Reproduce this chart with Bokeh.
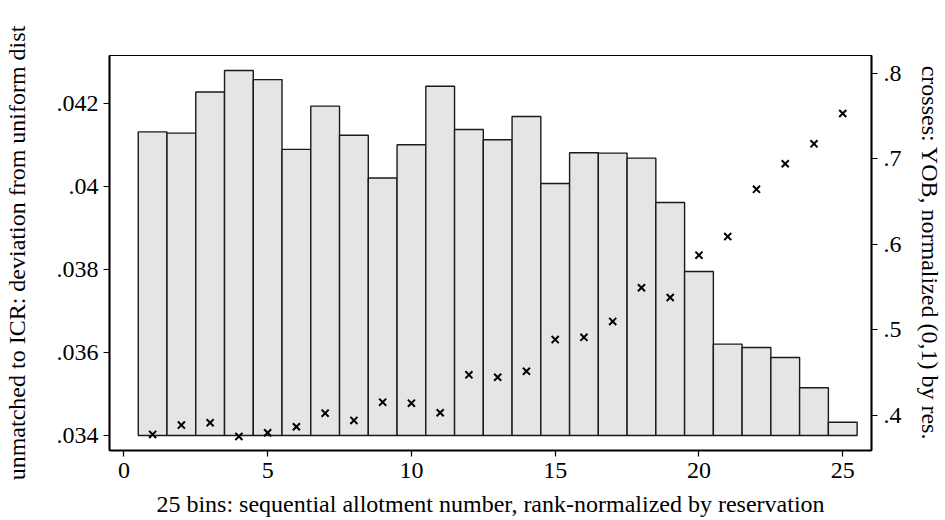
from bokeh.plotting import figure
from bokeh.models import Range1d, LinearAxis, FixedTicker
from bokeh.embed import file_html
from bokeh.resources import INLINE

# ---- data ----
bins = list(range(1, 26))
base = 0.034
share = [0.04131, 0.04128, 0.04227, 0.04279, 0.04257, 0.04089, 0.04193, 0.04123,
         0.04020, 0.04100, 0.04241, 0.04137, 0.04112, 0.04168, 0.04007, 0.04081,
         0.04080, 0.04068, 0.03961, 0.03795, 0.03620, 0.03612, 0.03588, 0.03515,
         0.03432]
yob = [0.3778, 0.3887, 0.3915, 0.3755, 0.3798, 0.3868, 0.4027, 0.3942, 0.4155,
       0.4144, 0.4031, 0.4475, 0.4447, 0.4517, 0.4887, 0.4914, 0.5100, 0.5494,
       0.5380, 0.5875, 0.6092, 0.6645, 0.6944, 0.7177, 0.7532]
x_ticks = [0, 5, 10, 15, 20, 25]
left_ticks = [0.034, 0.036, 0.038, 0.040, 0.042]
left_labels = [".034", ".036", ".038", ".04", ".042"]
right_ticks = [0.4, 0.5, 0.6, 0.7, 0.8]
right_labels = [".4", ".5", ".6", ".7", ".8"]
x_title = "25 bins: sequential allotment number, rank-normalized by reservation"
left_title = "unmatched to ICR: deviation from uniform dist"
right_title = "crosses: YOB, normalized (0,1) by res."

FONT = "Liberation Serif"

p = figure(width=945, height=520, output_backend="svg", toolbar_location=None,
           x_range=Range1d(-0.5, 26.0), y_range=Range1d(0.03364, 0.04315),
           min_border_left=109, min_border_right=74, min_border_top=55,
           min_border_bottom=70)
p.extra_y_ranges = {"r": Range1d(0.359, 0.821)}

p.vbar(x=bins, top=share, bottom=base, width=1.0, fill_color="#e5e5e5",
       line_color="#1a1a1a", line_width=1.4)
p.scatter(x=bins, y=yob, marker="x", size=10, line_width=2, line_color="black",
          y_range_name="r")

p.xgrid.visible = False
p.ygrid.visible = False
p.outline_line_color = "black"
p.outline_line_width = 1.2
p.background_fill_color = "white"
p.border_fill_color = "white"

raxis = LinearAxis(y_range_name="r")
p.add_layout(raxis, "right")

def style(ax, title, ticks, labels):
    ax.axis_label = title
    ax.ticker = FixedTicker(ticks=ticks)
    ax.major_label_overrides = {t: l for t, l in zip(ticks, labels)}
    ax.axis_label_text_font = FONT
    ax.axis_label_text_font_style = "normal"
    ax.axis_label_text_font_size = "24px"
    ax.axis_label_text_color = "black"
    ax.major_label_text_font = FONT
    ax.major_label_text_font_size = "24px"
    ax.major_label_text_color = "black"
    ax.axis_line_color = "black"
    ax.axis_line_width = 2
    ax.major_tick_line_color = "black"
    ax.major_tick_line_width = 1.2
    ax.major_tick_out = 6
    ax.major_tick_in = 0
    ax.minor_tick_line_color = None

style(p.xaxis[0], x_title, x_ticks, [str(t) for t in x_ticks])
style(p.yaxis[0], left_title, left_ticks, left_labels)
style(raxis, right_title, right_ticks, right_labels)

p.yaxis[0].major_label_orientation = "horizontal"
raxis.major_label_orientation = "horizontal"
raxis.axis_label_orientation = "vertical"
p.yaxis[0].axis_label_standoff = 24
raxis.axis_label_standoff = 12
p.xaxis[0].axis_label_standoff = 10
p.yaxis[0].major_label_standoff = 5
raxis.major_label_standoff = 6
p.xaxis[0].major_label_standoff = 6

open("out.html", "w").write(file_html(p, INLINE))
